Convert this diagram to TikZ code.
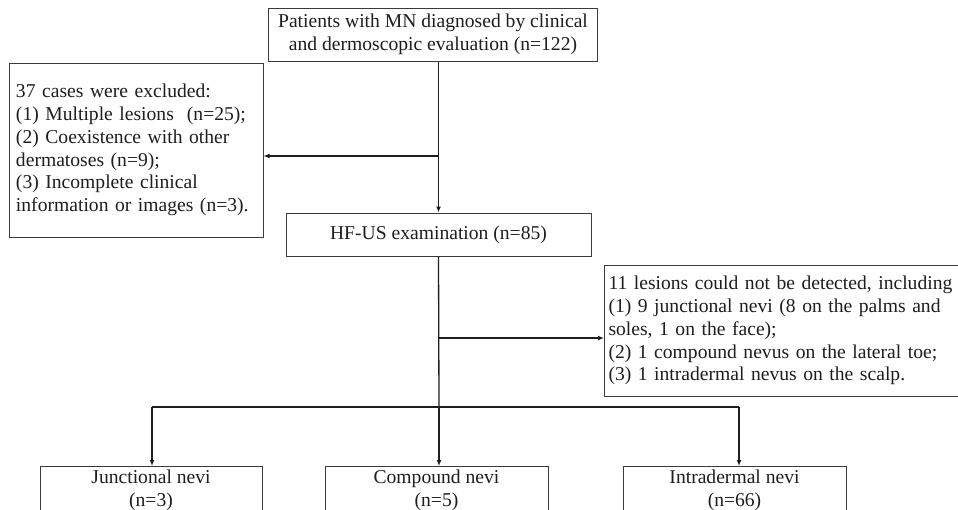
\documentclass[tikz,border=0pt]{standalone}
\usepackage{fontspec}
\setmainfont{Liberation Serif}
\usetikzlibrary{arrows.meta,positioning,calc}
\definecolor{ink}{HTML}{1E1E1E}
\definecolor{frame}{HTML}{3A3A3A}
\tikzset{
  >={Latex[length=6pt,width=5pt]},
  every node/.style={font=\fontsize{19.6}{22.8}\selectfont,text=ink},
  box/.style={draw=frame,line width=1pt,fill=white,align=center,inner sep=4pt},
  notebox/.style={box,align=left,inner xsep=7pt},
  subbox/.style={box,anchor=north,minimum width=222pt,inner ysep=3.5pt},
  arrow/.style={->,line width=1.3pt,draw=ink},
  link/.style={line width=1.3pt,draw=ink},
}
\begin{document}
\begin{tikzpicture}[x=1pt,y=-1pt]
\useasboundingbox (0,0) rectangle (958,509);
\clip (0,0) rectangle (958,509);

% ---------- main column ----------
\node[box,minimum width=329pt,minimum height=53pt] (pat) at (433,34.5) {Patients with MN diagnosed by clinical\\and dermoscopic evaluation (n=122)};
\node[box,minimum width=305pt,minimum height=43pt] (hfus) at (438.5,234.5) {HF-US examination (n=85)};

% ---------- side notes ----------
\node[notebox,text width=240pt,minimum height=174pt] (excl) at (136,150) {37 cases were excluded:\\(1) Multiple lesions~~(n=25);\\(2) Coexistence with other\\dermatoses (n=9);\\(3) Incomplete clinical\\information or images (n=3).};
\node[notebox,inner xsep=4pt,text width=346pt,minimum height=131pt] (undet) at (781.5,330.5) {11 lesions could not be detected, including\\(1) 9 junctional nevi (8 on the palms and\\soles, 1 on the face);\\(2) 1 compound nevus on the lateral toe;\\(3) 1 intradermal nevus on the scalp.};

% ---------- subtypes ----------
\node[subbox] (junc) at (151,466) {Junctional nevi\\(n=3)};
\node[subbox,minimum width=223pt] (comp) at (436.5,466) {Compound nevi\\(n=5)};
\node[subbox,minimum width=223pt] (intra) at (734.5,466) {Intradermal nevi\\(n=66)};

% ---------- connectors ----------
\coordinate (exjoin) at (439,156);
\coordinate (unjoin) at (439,338);
\coordinate (split) at (439,407);
\coordinate (lsplit) at (152,407);
\coordinate (rsplit) at (739,407);

\draw[arrow] (pat.south -| hfus.north) -- (hfus.north);
\draw[arrow] (exjoin) -- (exjoin -| excl.east);
\draw[link] (hfus.south) -- (split);
\draw[arrow] (unjoin) -- (unjoin -| undet.west);
\draw[link] (lsplit) -- (rsplit);
\draw[arrow] (split) -- (split |- comp.north);
\draw[arrow] (lsplit) -- (lsplit |- junc.north);
\draw[arrow] (rsplit) -- (rsplit |- intra.north);
\end{tikzpicture}
\end{document}
